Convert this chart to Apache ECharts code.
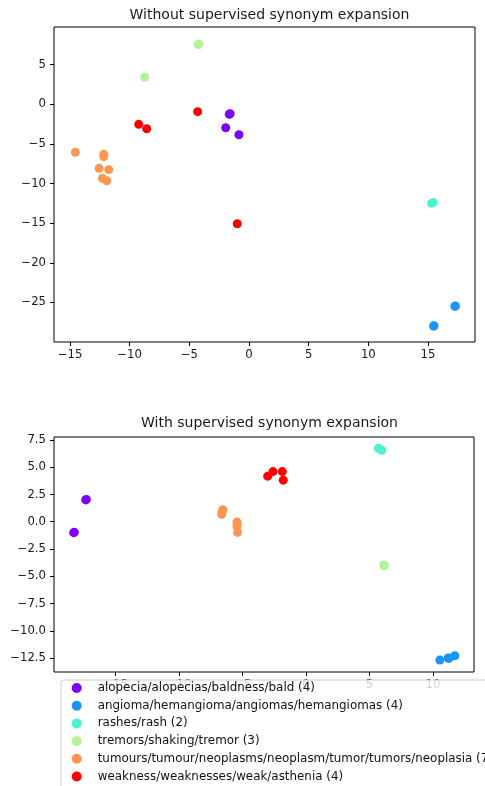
<!DOCTYPE html>
<html>
<head>
<meta charset="utf-8">
<script src="https://cdn.jsdelivr.net/npm/echarts@6/dist/echarts.min.js"></script>
<style>
html,body{margin:0;padding:0;background:#fff;}
#chart{width:485px;height:786px;}
</style>
</head>
<body>
<div id="chart"></div>
<script>
const categories = [
  'alopecia/alopecias/baldness/bald (4)',
  'angioma/hemangioma/angiomas/hemangiomas (4)',
  'rashes/rash (2)',
  'tremors/shaking/tremor (3)',
  'tumours/tumour/neoplasms/neoplasm/tumor/tumors/neoplasia (7)',
  'weakness/weaknesses/weak/asthenia (4)'
];
const titles = ['Without supervised synonym expansion', 'With supervised synonym expansion'];

// Plot 1: without supervised synonym expansion
const without_alopecia = [[-1.65,-1.26],[-1.58,-1.18],[-1.95,-2.95],[-0.84,-3.84]];
const without_angioma  = [[17.25,-25.5],[17.3,-25.45],[15.47,-28.0],[15.5,-27.95]];
const without_rash     = [[15.3,-12.5],[15.45,-12.4]];
const without_tremor   = [[-4.21,7.61],[-4.25,7.55],[-8.74,3.45]];
const without_tumour   = [[-14.55,-6.06],[-12.17,-6.31],[-12.17,-6.6],[-12.56,-8.08],[-11.75,-8.25],[-12.28,-9.34],[-11.92,-9.64]];
const without_weakness = [[-4.30,-0.93],[-9.24,-2.53],[-8.57,-3.08],[-0.98,-15.07]];

// Plot 2: with supervised synonym expansion
const with_alopecia = [[-17.3,2.05],[-17.35,2.0],[-18.3,-1.0],[-18.25,-0.97]];
const with_angioma  = [[10.54,-12.69],[11.2,-12.5],[11.72,-12.29],[11.25,-12.52]];
const with_rash     = [[5.7,6.74],[5.97,6.56]];
const with_tremor   = [[6.15,-4.0],[6.12,-3.97],[6.17,-4.03]];
const with_tumour   = [[-6.55,1.1],[-6.65,0.67],[-6.6,0.9],[-5.44,-0.03],[-5.42,-0.2],[-5.44,-0.43],[-5.39,-0.98]];
const with_weakness = [[-3.02,4.18],[-2.6,4.6],[-1.87,4.6],[-1.79,3.81]];

// tick labels
const x1Ticks = [-15,-10,-5,0,5,10,15];
const y1Ticks = [5,0,-5,-10,-15,-20,-25];
const x2Ticks = [-15,-10,-5,0,5,10];
const y2Ticks = [7.5,5,2.5,0,-2.5,-5,-7.5,-10,-12.5];

const colors = ['#8000ff','#1996f3','#4df3ce','#b3f396','#ff964f','#ff0000'];
const withoutData = [without_alopecia, without_angioma, without_rash, without_tremor, without_tumour, without_weakness];
const withData = [with_alopecia, with_angioma, with_rash, with_tremor, with_tumour, with_weakness];

const FONT = 'DejaVu Sans';
const fmtInt = v => String(v).replace('-', '\u2212');
const fmt1 = v => Number(v).toFixed(1).replace('-', '\u2212');

function valAxis(gridIndex, min, max, ticks, fmt, isY) {
  return {
    type: 'value', gridIndex, min, max,
    axisLine: { show: false, onZero: false },
    splitLine: { show: false },
    axisTick: { show: true, inside: false, length: 4, customValues: ticks, lineStyle: { color: '#000', width: 1 } },
    axisLabel: { show: true, customValues: ticks, formatter: fmt, color: '#1a1a1a', fontFamily: FONT, fontSize: 11.7, margin: isY ? 8 : 7 }
  };
}

const series = [];
categories.forEach((name, i) => {
  series.push({ name, type: 'scatter', xAxisIndex: 0, yAxisIndex: 0, data: withoutData[i], symbolSize: 9, itemStyle: { color: colors[i], opacity: 1 }, z: 2 + i });
  series.push({ name, type: 'scatter', xAxisIndex: 1, yAxisIndex: 1, data: withData[i], symbolSize: 9, itemStyle: { color: colors[i], opacity: 1 }, z: 2 + i });
});

const chart = echarts.init(document.getElementById('chart'), null, { renderer: 'canvas' });
chart.setOption({
  animation: false,
  backgroundColor: '#fff',
  color: colors,
  title: [
    { text: titles[0], left: 264.5, top: 3, textAlign: 'center', textStyle: { fontFamily: FONT, fontSize: 14, fontWeight: 'normal', color: '#1a1a1a' } },
    { text: titles[1], left: 264.5, top: 411, textAlign: 'center', textStyle: { fontFamily: FONT, fontSize: 14, fontWeight: 'normal', color: '#1a1a1a' } }
  ],
  grid: [
    { left: 54, top: 27, width: 421, height: 315, show: true, borderColor: '#000', borderWidth: 1, backgroundColor: 'transparent' },
    { left: 54, top: 437, width: 420, height: 235, show: true, borderColor: '#000', borderWidth: 1, backgroundColor: 'transparent' }
  ],
  xAxis: [
    valAxis(0, -16.34, 18.94, x1Ticks, fmtInt, false),
    valAxis(1, -19.85, 13.23, x2Ticks, fmtInt, false)
  ],
  yAxis: [
    valAxis(0, -30.0, 9.76, y1Ticks, fmtInt, true),
    valAxis(1, -13.78, 7.77, y2Ticks, fmt1, true)
  ],
  legend: {
    data: categories,
    orient: 'vertical',
    left: 61, top: 680, height: 140,
    icon: 'circle',
    itemWidth: 10, itemHeight: 10, itemGap: 5.7,
    padding: [2, 10, 8, 10.7],
    backgroundColor: 'rgba(255,255,255,0.8)',
    borderColor: '#cccccc', borderWidth: 1, borderRadius: 3,
    textStyle: { fontFamily: FONT, fontSize: 11.9, lineHeight: 12, color: '#111', padding: [0,0,0,11] },
    selectedMode: false,
    z: 10
  },
  series
});
</script>
</body>
</html>
